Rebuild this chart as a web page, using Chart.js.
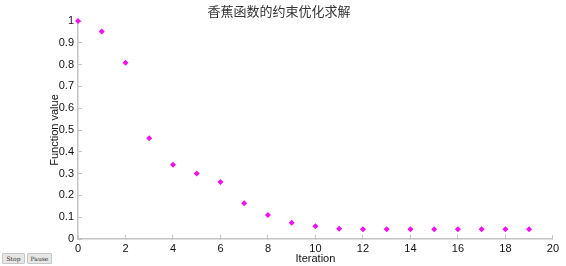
<!DOCTYPE html>
<html>
<head>
<meta charset="utf-8">
<script src="https://cdn.jsdelivr.net/npm/chart.js@4"></script>
<style>
  html, body { margin: 0; padding: 0; background: #fff; }
  #wrap { position: relative; width: 566px; height: 266px; }
  .btn {
    position: absolute; top: 253px; height: 11px; padding: 0;
    font: 6px "DejaVu Serif", serif; color: #333;
    background: #e6e6e6; border: 1px solid #c8c8c8; border-radius: 1px;
  }
</style>
</head>
<body>
<div id="wrap">
  <canvas id="chart" width="566" height="266"></canvas>
  <button class="btn" style="left:2px;width:23px;">Stop</button>
  <button class="btn" style="left:27px;width:25px;">Pause</button>
</div>
<script>
var iterations = [0, 1, 2, 3, 4, 5, 6, 7, 8, 9, 10, 11, 12, 13, 14, 15, 16, 17, 18, 19];
var fvalues = [1.0, 0.952, 0.808, 0.462, 0.341, 0.300, 0.261, 0.164, 0.110, 0.075,
  0.058, 0.047, 0.045, 0.045, 0.045, 0.045, 0.045, 0.045, 0.045, 0.045];
var xTicks = [0, 2, 4, 6, 8, 10, 12, 14, 16, 18, 20];
var yTicks = [0, 0.1, 0.2, 0.3, 0.4, 0.5, 0.6, 0.7, 0.8, 0.9, 1];

var points = [];
for (var i = 0; i < iterations.length; i++) {
  points.push({ x: iterations[i], y: fvalues[i] });
}

var axisFont = { family: "'Liberation Sans', Arial, sans-serif", size: 11 };

var ctx = document.getElementById("chart").getContext("2d");
var chart = new Chart(ctx, {
  type: "scatter",
  data: {
    datasets: [
      {
        data: points,
        pointStyle: "rectRot",
        pointRadius: 3,
        backgroundColor: "#f010f0",
        borderColor: "#f010f0",
        borderWidth: 0,
        clip: false,
      },
    ],
  },
  options: {
    responsive: false,
    animation: false,
    layout: { padding: { left: 0, right: 8, top: 0, bottom: 0 } },
    plugins: {
      legend: { display: false },
      tooltip: { enabled: false },
      title: {
        display: true,
        text: "香蕉函数的约束优化求解",
        color: "#333",
        font: { family: "'Noto Sans CJK SC', sans-serif", size: 13, weight: "normal" },
        padding: { top: 3, bottom: 2.4 },
      },
    },
    scales: {
      x: {
        type: "linear",
        min: 0,
        max: 20,
        afterBuildTicks: function (scale) {
          scale.ticks = xTicks.map(function (v) { return { value: v }; });
        },
        afterFit: function (scale) { scale.height = 27; },
        grid: { drawOnChartArea: false, tickLength: -4, color: "#c4c4c4" },
        border: { color: "#c4c4c4", width: 1.5 },
        ticks: { color: "#111", font: axisFont, padding: 7, maxRotation: 0 },
        title: { display: true, text: "Iteration", color: "#111", font: axisFont, padding: { top: -6, bottom: 0 } },
      },
      y: {
        min: 0,
        max: 1,
        afterBuildTicks: function (scale) {
          scale.ticks = yTicks.map(function (v) { return { value: v }; });
        },
        afterFit: function (scale) { scale.width = 78; },
        grid: { drawOnChartArea: false, tickLength: -4, color: "#c4c4c4" },
        border: { color: "#c4c4c4", width: 1.5 },
        ticks: {
          color: "#111",
          font: axisFont,
          padding: 8,
          callback: function (v) { return String(Math.round(v * 10) / 10); },
        },
        title: { display: true, text: "Function value", color: "#111", font: axisFont, padding: { top: 48, bottom: 0 } },
      },
    },
  },
});
</script>
</body>
</html>
